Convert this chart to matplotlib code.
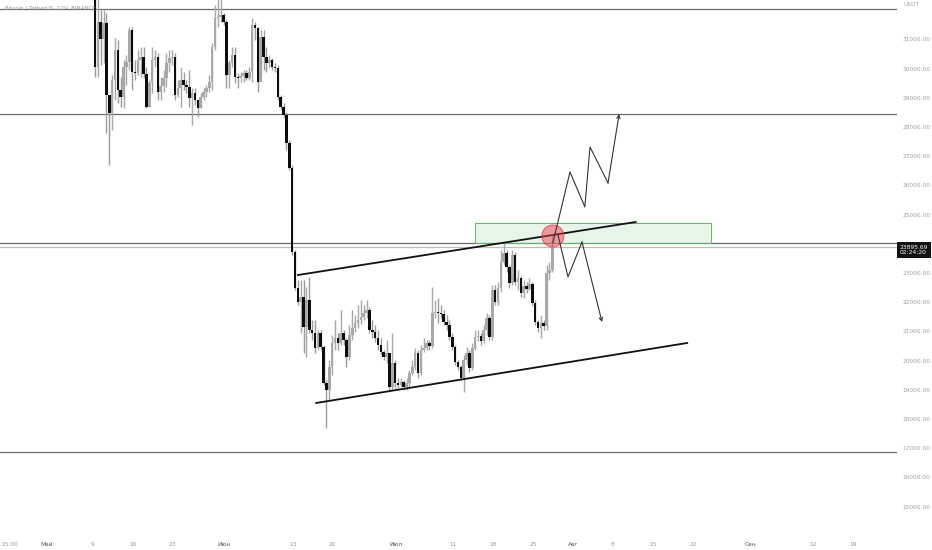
import matplotlib
matplotlib.use("Agg")
import matplotlib.pyplot as plt
import matplotlib.transforms as mtransforms
from matplotlib.patches import Rectangle, Ellipse

# ---------------- data (BTC/USDT, 12h candles) ----------------
first_open = 33800
closes = [30056, 31597, 31015, 31563, 29097, 28480, 29610, 30638, 29268, 29028,
          30056, 30227, 31323, 29884, 29850, 30295, 30398, 29816, 28686, 29508,
          30295, 30398, 29199, 29405, 29679, 30193, 30364, 30398, 29097, 29336,
          29610, 29439, 29371, 28994, 29165, 28925, 28651, 29028, 29199, 29336,
          29542, 30741, 31734, 31768, 31837, 31597, 29782, 30193, 30467, 29713,
          29679, 29747, 29850, 29679, 29884, 31494, 31391, 29542, 31083, 30398,
          30193, 30295, 30056, 30021, 29028, 28686, 28412, 27453, 26596, 23719,
          22486, 22007, 22178, 21151, 22075, 21048, 20945, 20431, 20945, 20466,
          19233, 18993, 19781, 20603, 20774, 20603, 20945, 20705, 20123, 20877,
          21116, 21288, 21390, 21493, 21630, 21733, 21048, 20979, 20774, 20534,
          20294, 20123, 20260, 19096, 19918, 19233, 19164, 19267, 19096, 19233,
          19575, 19781, 20260, 19575, 20363, 20431, 20603, 20500, 21630, 21665,
          21630, 21596, 21322, 21219, 20808, 20466, 19952, 19781, 19404, 20020,
          20260, 19747, 20431, 20808, 20842, 20671, 21048, 21459, 20808, 22418,
          22007, 22486, 23377, 23685, 23206, 22658, 23617, 22692, 22829, 22315,
          22555, 22452, 22623, 21973, 21322, 21116, 21288, 21185, 23000, 23103,
          23895.69]
highs = [34200, 32500, 32008, 32008, 31905, 29097, 29782, 31049, 30980, 29713,
         30295, 30467, 31426, 31426, 30295, 30638, 30741, 30741, 30056, 29610,
         30741, 30638, 30535, 29713, 29953, 30535, 30638, 30638, 30535, 29610,
         30056, 29884, 29610, 29953, 29336, 29336, 28925, 29165, 29336, 29439,
         29782, 30878, 32179, 32500, 32500, 31905, 31665, 30295, 30741, 30741,
         29850, 29884, 29953, 29953, 30056, 31734, 31597, 31426, 31323, 31323,
         30741, 30467, 30364, 30193, 30124, 29097, 28823, 28514, 27555, 26699,
         23788, 22760, 22760, 22760, 22521, 22863, 21390, 21390, 21048, 21048,
         20534, 19336, 20020, 20877, 21390, 20945, 21733, 21048, 20774, 21219,
         21733, 21562, 21904, 22075, 21904, 22075, 21836, 21390, 21219, 21048,
         20774, 20363, 20705, 20192, 20945, 20020, 19404, 19404, 19336, 19404,
         19678, 20020, 20431, 20363, 20534, 20774, 20705, 20705, 22521, 22075,
         22144, 21904, 21733, 21562, 21390, 20945, 20534, 20020, 19849, 20192,
         20466, 20363, 20603, 21048, 21048, 20945, 21219, 21630, 21562, 22589,
         22589, 22692, 23788, 24062, 23788, 23274, 23788, 23719, 23103, 22897,
         22760, 22692, 22829, 22692, 22075, 21390, 21562, 21390, 23274, 23377,
         24302]
lows = [29713, 29713, 30124, 30193, 27795, 26699, 27898, 28925, 28823, 28686,
        28651, 29439, 29953, 29268, 29610, 29782, 29713, 29679, 28651, 28686,
        29165, 30056, 28925, 28925, 29199, 29371, 29884, 30124, 28925, 29028,
        28686, 29268, 29165, 28686, 28069, 28754, 28343, 28651, 28925, 29028,
        29199, 29268, 30638, 31426, 31597, 31494, 29336, 29336, 30056, 29508,
        29336, 29542, 29542, 29610, 29610, 29542, 30980, 29199, 29782, 29953,
        29884, 30056, 29953, 29884, 28925, 28583, 28309, 27213, 26528, 23617,
        22418, 21904, 20945, 20260, 20123, 20945, 20705, 20260, 20363, 20363,
        19164, 17691, 18650, 19507, 20363, 20363, 20534, 20534, 19781, 20020,
        20705, 20979, 21116, 21253, 21390, 21459, 20945, 20774, 20637, 20363,
        20192, 20020, 19918, 18993, 18993, 19061, 19061, 19096, 18993, 18993,
        19061, 19507, 19678, 19404, 19507, 20294, 20363, 20363, 20431, 21459,
        21288, 21459, 21219, 21048, 20705, 20363, 19849, 19678, 19336, 18925,
        19849, 19610, 19678, 20363, 20671, 20534, 20603, 20877, 20705, 20705,
        21904, 21904, 22349, 23274, 23034, 22486, 22589, 22589, 22418, 22178,
        22144, 22315, 22418, 21870, 21219, 20979, 20774, 21048, 21048, 22760,
        23034]
first_day = 8.4          # days since 1 May (12h candle step = 0.5 day)
step = 0.5

levels = [32030, 28445, 24027, 16870]
last_price = 23895.69
countdown = "02:24:20"

tick_days = [-6.5, 0, 8, 15, 22, 31, 43, 50, 61, 71, 78, 85, 92, 99, 106, 113, 123, 134, 141]
tick_labels = ["15:00", "Май", "9", "16", "23", "Июн", "13", "20", "Июл", "11", "18",
               "25", "Авг", "8", "15", "22", "Сен", "12", "19"]
month_labels = {"Май", "Июн", "Июл", "Авг", "Сен"}
price_ticks = [15000, 16000, 17000, 18000, 19000, 20000, 21000, 22000, 23000,
               25000, 26000, 27000, 28000, 29000, 30000, 31000]

upper_channel = ([43.9, 103.0], [22931, 24747])
lower_channel = ([47.1, 112.0], [18548, 20603])
zone_days = (74.9, 116.2)
zone_prices = (24027, 24713)
circle_center = (88.5, 24267)
up_path_days = [88.5, 91.5, 94.1, 95.0, 98.15, 100.1]
up_path_prices = [24027, 26459, 25261, 27316, 26083, 28446]
down_path_days = [89.4, 91.15, 93.6, 97.1]
down_path_prices = [24302, 22863, 24062, 21322]

# ---------------- figure ----------------
fig = plt.figure(figsize=(9.32, 5.5), dpi=100)
ax = fig.add_axes([0, 22 / 550, 897 / 932, 528 / 550])
ax.set_xlim(-8.22, 148.71)
ax.set_ylim(14266, 32350)
for s in ax.spines.values():
    s.set_visible(False)

# horizontal levels
for lv in levels:
    ax.axhline(lv, color="#6a6a6a", lw=0.9, zorder=1)
ax.axhline(last_price, color="#bdbdbd", lw=0.9, zorder=1)

# candles
opens = [first_open] + closes[:-1]
up_col, dn_col = "#a8a8a8", "#0d0d0d"
for i, (o, h, l, c) in enumerate(zip(opens, highs, lows, closes)):
    d = first_day + step * i
    up = c >= o
    ax.vlines(d, l, h, color="#9c9c9c" if not up else up_col, lw=1.0, zorder=2)
    bottom = min(o, c)
    height = max(abs(c - o), 45)
    ax.bar(d, height, bottom=bottom, width=0.45, color=up_col if up else dn_col,
           linewidth=0, zorder=3)

# channel lines
ax.plot(*upper_channel, color="#111111", lw=1.3, zorder=4)
ax.plot(*lower_channel, color="#111111", lw=1.3, zorder=4)

# green zone
ax.add_patch(Rectangle((zone_days[0], zone_prices[0]), zone_days[1] - zone_days[0],
                       zone_prices[1] - zone_prices[0], facecolor="#4caf50", alpha=0.13,
                       edgecolor="none", zorder=1))
ax.add_patch(Rectangle((zone_days[0], zone_prices[0]), zone_days[1] - zone_days[0],
                       zone_prices[1] - zone_prices[0], facecolor="none",
                       edgecolor="#5cb860", lw=0.7, zorder=1))

# red circle
ax.add_patch(Ellipse(circle_center, 3.85, 750, facecolor=(0.95, 0.25, 0.32, 0.5),
                     edgecolor=(0.9, 0.2, 0.3, 0.7), lw=0.8, zorder=5))

# arrow paths
ax.plot(up_path_days[:-1], up_path_prices[:-1], color="#333333", lw=0.8, zorder=5)
ax.annotate("", xy=(up_path_days[-1], up_path_prices[-1]),
            xytext=(up_path_days[-2], up_path_prices[-2]),
            arrowprops=dict(arrowstyle="->", color="#333333", lw=0.8,
                            shrinkA=0, shrinkB=0, mutation_scale=6), zorder=5)
ax.plot(down_path_days[:-1], down_path_prices[:-1], color="#333333", lw=0.8, zorder=5)
ax.annotate("", xy=(down_path_days[-1], down_path_prices[-1]),
            xytext=(down_path_days[-2], down_path_prices[-2]),
            arrowprops=dict(arrowstyle="->", color="#333333", lw=0.8,
                            shrinkA=0, shrinkB=0, mutation_scale=6), zorder=5)

# x axis labels
ax.set_xticks(tick_days)
ax.set_xticklabels(tick_labels)
ax.tick_params(axis="x", length=0, pad=10, labelsize=4.2, colors="#9a9a9a")
for t in ax.get_xticklabels():
    if t.get_text() in month_labels:
        t.set_color("#555555")

# y axis labels (right)
ax.yaxis.tick_right()
ax.set_yticks(price_ticks)
ax.set_yticklabels([f"{v:.2f}" for v in price_ticks])
ax.tick_params(axis="y", length=0, pad=4, labelsize=4.2, colors="#a0a0a0")

ax.text(1.0 + 6 / 897, 1 - 5 / 528, "USDT", transform=ax.transAxes, fontsize=4.2,
        color="#a0a0a0", va="center", ha="left")
ax.text(5 / 897, 1 - 8 / 528, "Bitcoin / TetherUS, 12Ч, BINANCE", transform=ax.transAxes,
        fontsize=4, color="#999999", va="center", ha="left")

trans = mtransforms.blended_transform_factory(ax.transAxes, ax.transData)
ax.text(1.0 + 3 / 897, 23788, f"{last_price:.2f}\n{countdown}", transform=trans,
        fontsize=4.3, color="white", va="center", ha="left", linespacing=1.2,
        bbox=dict(boxstyle="square,pad=0.45", facecolor="#111111", edgecolor="none"),
        clip_on=False, zorder=10)

fig.savefig("out.png", dpi=100, facecolor="white")
